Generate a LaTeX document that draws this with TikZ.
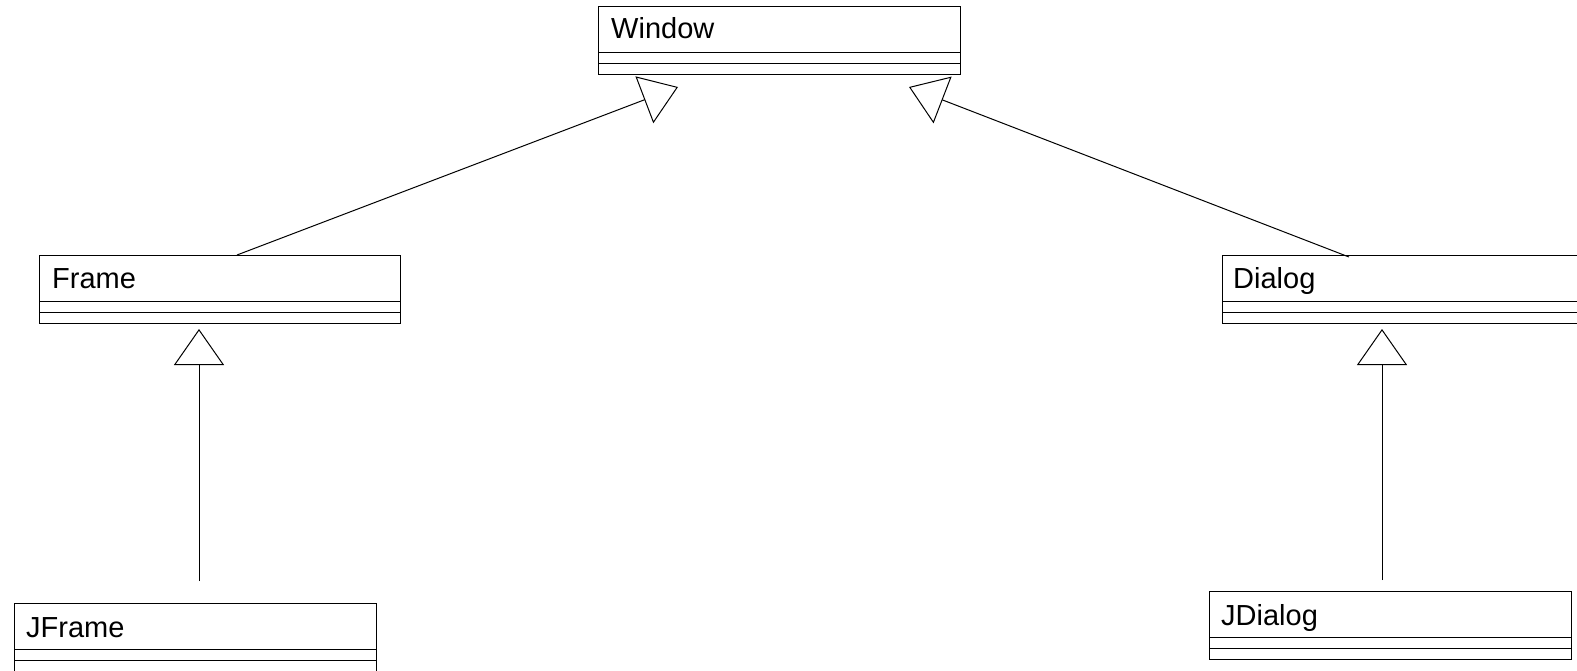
\documentclass[tikz,border=0pt]{standalone}
\usepackage{fontspec}
\setmainfont{Liberation Sans}
\usetikzlibrary{arrows.meta,calc}
\begin{document}
\begin{tikzpicture}[x=1pt,y=-1pt,
  classbox/.style={draw, line width=1pt, rectangle, inner sep=0pt, outer sep=0pt,
    anchor=north west, minimum width=362pt, minimum height=68pt},
  classname/.style={anchor=base west, inner sep=0pt, font=\fontsize{29pt}{29pt}\selectfont},
  sepline/.style={line width=1pt},
  inherit/.style={line width=1pt, -{Triangle[open, length=36pt, width=50pt]}}
]
\clip (0,0) rectangle (1577,670);
\fill[white] (0,0) rectangle (1577,670);

% classes
\node[classbox] (window) at (598,6) {};
\node[classbox, minimum width=361pt] (frame) at (39,255) {};
\node[classbox, minimum width=420pt] (dialog) at (1222,255) {};
\node[classbox] (jframe) at (14,603) {};
\node[classbox] (jdialog) at (1209,591) {};

\foreach \c in {window,frame,dialog,jframe,jdialog}{
  \draw[sepline] ($(\c.north west)+(0,46)$) -- ($(\c.north east)+(0,46)$);
  \draw[sepline] ($(\c.north west)+(0,57)$) -- ($(\c.north east)+(0,57)$);
}

\node[classname] (windowname) at ($(window.north west)+(13,32)$) {Window};
\node[classname] (framename) at ($(frame.north west)+(13,33)$) {Frame};
\node[classname] (dialogname) at ($(dialog.north west)+(11,33)$) {Dialog};
\node[classname] (jframename) at ($(jframe.north west)+(12,34)$) {JFrame};
\node[classname] (jdialogname) at ($(jdialog.north west)+(12,34)$) {JDialog};

% connector end points
\coordinate (frameup) at (237,255);
\coordinate (windowtipL) at (678,87);
\coordinate (dialogup) at (1349,257);
\coordinate (windowtipR) at (909,87);
\coordinate (jframeup) at (199,581);
\coordinate (frametip) at (199,329);
\coordinate (jdialogup) at (1382,580);
\coordinate (dialogtip) at (1382,329);

\draw[inherit] (frameup) -- (windowtipL);
\draw[inherit] (dialogup) -- (windowtipR);
\draw[inherit] (jframeup) -- (frametip);
\draw[inherit] (jdialogup) -- (dialogtip);
\end{tikzpicture}
\end{document}
